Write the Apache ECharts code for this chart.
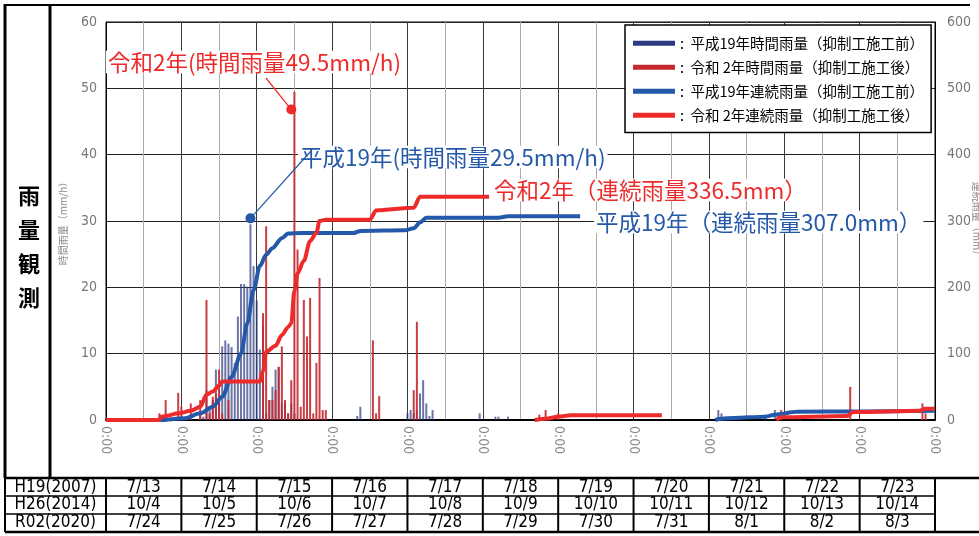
<!DOCTYPE html>
<html lang="ja">
<head>
<meta charset="utf-8">
<title>雨量観測</title>
<script src="https://cdn.jsdelivr.net/npm/echarts@6/dist/echarts.min.js"></script>
<style>
  html, body { margin: 0; padding: 0; background: #fff; }
  #chart { width: 979px; height: 536px; }
</style>
</head>
<body>
<div id="chart"></div>
<script>
// 横軸は経過時間 (h)、0 = 1日目の 0:00
// 時間雨量 (mm/h)
const h19Hours = [30, 31, 32, 33, 34, 35, 36, 37, 38, 39, 40, 41, 42, 43, 44, 45, 46, 47, 48, 49, 50,
  51, 52, 53, 54, 55, 56, 57, 58, 59, 60, 80, 81, 96, 97, 98, 99, 100, 101, 102, 103, 104,
  119, 124, 125, 128, 195, 196, 210, 213, 221]
const h19Rain = [1, 0.5, 4.5, 2, 3, 7.6, 3.5, 11.1, 12, 11.5, 11, 8.6, 15.6, 20.5, 20.5, 20.1, 29.5, 23.2, 18, 10.6, 14.1,
  1, 3, 5, 7.6, 8, 2.5, 2.5, 1, 2.5, 1, 0.6, 2, 1, 1.5, 1, 1.5, 4, 6, 2.5, 0.6, 1.5,
  1, 0.5, 0.5, 0.5, 1.5, 1, 0.8, 1.5, 0.3]
const r02Hours = [17, 19, 23, 24, 27, 30, 32, 33, 34, 35, 36, 37, 39, 50, 51, 52, 53, 54, 55, 56, 57, 58,
  59, 60, 61, 62, 63, 64, 65, 66, 67, 68, 69, 70, 85, 86, 87, 98, 99, 138, 140, 144, 215, 237, 260, 261]
const r02Rain = [1, 3, 4.1, 2, 2.5, 3, 18.1, 1, 3.5, 4, 7.6, 1, 3, 16.1, 29.2, 3, 3, 4.5, 8, 11.1, 3, 1,
  6, 49.5, 25.7, 2, 18.1, 12.6, 18.4, 1, 8.6, 21.4, 1.5, 1.5, 12, 1, 3.6, 4.5, 14.8, 0.8, 1.5, 1, 1.5, 5, 2.5, 1]

// 連続雨量 (mm)、null は線の切れ目
const h19CumHours = [0, 17, 25, 30, 34, 37, 40, 43, 45, 47, 49, 51, 53, 56, 58, 62, 79, 81, 95, 98, 100, 102,
  125, 128, 151, 172, 194, 196, 200, 210, 213, 220, 240, 264]
const h19Cum = [0, 0, 2.5, 10, 20, 35, 65, 100, 146, 196, 232, 249, 259, 274, 281, 282, 282, 285, 286, 289, 298, 305,
  305, 307, 307, null, 0, 2, 3, 5, 8, 12.5, 13, 14]
const r02CumHours = [0, 17, 17.5, 19, 23, 27, 30, 32, 34, 36, 37, 49, 50, 51, 54, 56, 58, 59, 60, 61, 63, 65,
  67, 68, 70, 84, 86, 98, 100, 122, 130, 136.5, 140, 144, 148, 177, 195, 213.5, 215, 236, 238, 259, 261, 264]
const r02Cum = [0, 0, 5, 6, 10, 14, 20, 38, 43, 52, 58, 58, 74, 103, 112, 128, 140, 146, 195, 221, 240, 270,
  282, 300, 302, 302, 316, 320, 336.5, 336.5, null, 0, 2, 5, 7, 7, null, 0, 4, 6, 12, 14, 17, 17]

// 表
const rowNames = ['H19(2007)', 'H26(2014)', 'R02(2020)']
const daysH19 = ['7/13', '7/14', '7/15', '7/16', '7/17', '7/18', '7/19', '7/20', '7/21', '7/22', '7/23']
const daysH26 = ['10/4', '10/5', '10/6', '10/7', '10/8', '10/9', '10/10', '10/11', '10/12', '10/13', '10/14']
const daysR02 = ['7/24', '7/25', '7/26', '7/27', '7/28', '7/29', '7/30', '7/31', '8/1', '8/2', '8/3']

const seriesNames = [
  '平成19年時間雨量（抑制工施工前）',
  '令和 2年時間雨量（抑制工施工後）',
  '平成19年連続雨量（抑制工施工前）',
  '令和 2年連続雨量（抑制工施工後）'
]
const colors = ['#2e3a80', '#c4282e', '#2458a8', '#ee2b2b']

const jp = '"Noto Sans CJK JP", sans-serif'
const narrow = '"Liberation Sans Narrow", "DejaVu Sans Condensed", "Liberation Sans", sans-serif'

const pairs = (xs, ys) => xs.map((x, i) => [x, ys[i] === null ? '-' : ys[i]])

const chart = echarts.init(document.getElementById('chart'))

const option = {
  animation: false,
  backgroundColor: '#fff',
  grid: {
    left: 106, right: 44, top: 22, bottom: 116,
    outerBoundsMode: 'none', containLabel: false,
    show: true, borderColor: '#000', borderWidth: 1
  },
  legend: {
    orient: 'vertical',
    left: 625,
    top: 25,
    icon: 'rect',
    itemWidth: 42,
    itemHeight: 5,
    itemGap: 9.5,
    padding: [11, 7, 10, 8],
    backgroundColor: '#fff',
    borderColor: '#000',
    borderWidth: 1.5,
    formatter: n => ':  ' + n,
    textStyle: { fontFamily: jp, fontSize: 14.5, color: '#000' },
    data: seriesNames.map((n, i) => ({ name: n, itemStyle: { color: colors[i], opacity: 1 } }))
  },
  xAxis: {
    type: 'value',
    min: 0,
    max: 264,
    interval: 12,
    axisLine: { show: true, onZero: false, lineStyle: { color: '#000', width: 2 } },
    axisTick: { show: false },
    axisLabel: {
      rotate: -90,
      margin: 6,
      color: '#888',
      fontSize: 14,
      fontFamily: narrow,
      showMinLabel: true,
      showMaxLabel: true,
      formatter: v => (v % 24 === 0 ? '0:00' : '')
    },
    splitLine: { show: true, lineStyle: { color: ['#3a3a3a', '#aaa'], width: 1 } }
  },
  yAxis: [
    {
      type: 'value',
      min: 0,
      max: 60,
      interval: 10,
      name: '時間雨量（mm/h）',
      nameLocation: 'middle',
      nameGap: 38,
      nameTextStyle: { color: '#888', fontSize: 10, fontFamily: jp },
      axisLine: { show: true, lineStyle: { color: '#000' } },
      axisTick: { show: false },
      axisLabel: { color: '#777', fontSize: 14, fontFamily: narrow, margin: 9 },
      splitLine: { lineStyle: { color: '#222', width: 1 } }
    },
    {
      type: 'value',
      min: 0,
      max: 600,
      interval: 100,
      position: 'right',
      axisLine: { show: true, lineStyle: { color: '#000' } },
      axisTick: { show: false },
      axisLabel: { color: '#777', fontSize: 14, fontFamily: narrow, margin: 12 },
      splitLine: { show: false }
    }
  ],
  series: [
    {
      name: seriesNames[0],
      type: 'bar',
      barWidth: 2,
      barGap: '-100%',
      itemStyle: { color: colors[0], opacity: 0.7 },
      data: pairs(h19Hours, h19Rain)
    },
    {
      name: seriesNames[1],
      type: 'bar',
      barWidth: 2,
      barGap: '-100%',
      itemStyle: { color: colors[1], opacity: 0.9 },
      data: pairs(r02Hours, r02Rain)
    },
    {
      name: seriesNames[2],
      type: 'line',
      yAxisIndex: 1,
      showSymbol: false,
      smooth: 0.3,
      smoothMonotone: 'x',
      lineStyle: { color: colors[2], width: 4 },
      itemStyle: { color: colors[2] },
      data: pairs(h19CumHours, h19Cum)
    },
    {
      name: seriesNames[3],
      type: 'line',
      yAxisIndex: 1,
      showSymbol: false,
      smooth: 0.3,
      smoothMonotone: 'x',
      lineStyle: { color: colors[3], width: 4 },
      itemStyle: { color: colors[3] },
      data: pairs(r02CumHours, r02Cum)
    }
  ]
}

chart.setOption(option)

// 枠・表・注記
function drawOverlay() {
  const px = h => chart.convertToPixel({ xAxisIndex: 0 }, h)
  const els = []
  const line = (x1, y1, x2, y2, w) => els.push({
    type: 'line', silent: true, z: 100,
    shape: { x1, y1, x2, y2 },
    style: { stroke: '#000', lineWidth: w }
  })
  const text = (t, x, y, opts) => els.push({
    type: 'text', silent: true, z: 101,
    style: Object.assign({ text: t, x, y, align: 'center', verticalAlign: 'middle', fill: '#000' }, opts)
  })

  // 外枠
  line(5, 5, 970, 5, 2)
  line(5, 4, 5, 478, 3)
  line(50, 4, 50, 478, 3)
  text('雨\n量\n観\n測', 29, 247, { fontSize: 22, fontWeight: 'bold', fontFamily: jp, lineHeight: 34 })

  // 右軸の名前（右端で切れている）
  els.push({
    type: 'text', silent: true, z: 101, x: 977, y: 221, rotation: -Math.PI / 2,
    style: { text: '連続雨量（mm）', align: 'center', verticalAlign: 'middle', fill: '#888', fontSize: 10, fontFamily: jp }
  })

  // 日付表
  const edges = [5]
  for (let k = 0; k <= 11; k++) edges.push(px(24 * k))
  line(5, 478, 979, 478, 2.5)
  line(5, 532, 979, 532, 2.5)
  line(5, 496, edges[12], 496, 1.5)
  line(5, 514, edges[12], 514, 1.5)
  edges.forEach(x => line(x, 478, x, 532, 2))
  const rows = [daysH19, daysH26, daysR02]
  const rowY = [488, 505, 523]
  rows.forEach((days, r) => {
    text(rowNames[r], (edges[0] + edges[1]) / 2, rowY[r], { fontSize: 17, fontFamily: narrow })
    days.forEach((d, i) => text(d, (edges[i + 1] + edges[i + 2]) / 2, rowY[r], { fontSize: 17, fontFamily: narrow }))
  })

  // 注記
  const redDot = chart.convertToPixel({ gridIndex: 0 }, [59, 46.8])
  const blueDot = chart.convertToPixel({ gridIndex: 0 }, [46, 30.4])
  els.push({ type: 'line', silent: true, z: 102, shape: { x1: 266, y1: 78, x2: redDot[0], y2: redDot[1] }, style: { stroke: colors[3], lineWidth: 1.2 } })
  els.push({ type: 'line', silent: true, z: 102, shape: { x1: 311, y1: 151, x2: blueDot[0], y2: blueDot[1] }, style: { stroke: colors[2], lineWidth: 1.2 } })
  els.push({ type: 'circle', silent: true, z: 102, shape: { cx: redDot[0], cy: redDot[1], r: 5 }, style: { fill: colors[3] } })
  els.push({ type: 'circle', silent: true, z: 102, shape: { cx: blueDot[0], cy: blueDot[1], r: 5 }, style: { fill: colors[2] } })

  const note = { fontSize: 22.5, fontFamily: jp, align: 'left', backgroundColor: '#fff', padding: [0, 2] }
  text('令和2年(時間雨量49.5mm/h)', 106, 62, Object.assign({}, note, { fill: colors[3] }))
  text('平成19年(時間雨量29.5mm/h)', 298, 157, Object.assign({}, note, { fill: colors[2] }))
  text('令和2年（連続雨量336.5mm）', 492, 190, Object.assign({}, note, { fill: colors[3] }))
  text('平成19年（連続雨量307.0mm）', 594, 222, Object.assign({}, note, { fill: colors[2] }))

  chart.setOption({ graphic: { elements: els } })
}

drawOverlay()
</script>
</body>
</html>
